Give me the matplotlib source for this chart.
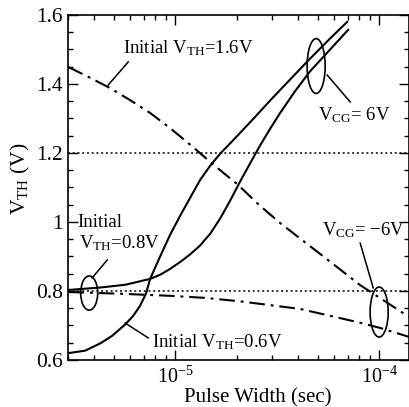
import numpy as np
import matplotlib
matplotlib.use('Agg')
import matplotlib.pyplot as plt
from matplotlib.patches import Ellipse
from matplotlib.ticker import LogLocator, MultipleLocator, FuncFormatter, NullFormatter

plt.rcParams['font.family'] = 'Liberation Serif'
plt.rcParams['mathtext.fontset'] = 'custom'
plt.rcParams['mathtext.rm'] = 'Liberation Serif'
plt.rcParams['mathtext.it'] = 'Liberation Serif:italic'
plt.rcParams['mathtext.default'] = 'regular'

# ---------------- data ----------------
# VCG = +6V, initial VTH = 0.6V
t_p06 = [3.0e-6, 3.62e-6, 4.29e-6, 4.91e-6, 5.69e-6, 6.23e-6, 6.73e-6, 7.20e-6,
         7.54e-6, 8.44e-6, 9.45e-6, 1.058e-5, 1.184e-5, 1.326e-5, 1.485e-5,
         1.662e-5, 1.861e-5, 2.08e-5, 2.47e-5, 2.92e-5, 3.66e-5, 4.49e-5,
         5.75e-5, 6.97e-5]
v_p06 = [0.620, 0.627, 0.648, 0.670, 0.703, 0.728, 0.757, 0.793,
         0.835, 0.900, 0.963, 1.018, 1.070, 1.122, 1.163,
         1.198, 1.228, 1.258, 1.305, 1.352, 1.413, 1.468,
         1.532, 1.580]

# VCG = +6V, initial VTH = 0.8V
t_p08 = [3.0e-6, 4.29e-6, 5.69e-6, 7.54e-6, 8.44e-6, 9.45e-6, 1.058e-5, 1.184e-5,
         1.326e-5, 1.485e-5, 1.662e-5, 1.861e-5, 2.08e-5, 2.33e-5, 2.61e-5,
         2.92e-5, 3.27e-5, 3.88e-5, 4.59e-5, 5.75e-5, 7.05e-5]
v_p08 = [0.803, 0.810, 0.818, 0.835, 0.847, 0.864, 0.884, 0.906,
         0.932, 0.966, 1.010, 1.062, 1.117, 1.170, 1.222,
         1.270, 1.316, 1.380, 1.437, 1.500, 1.557]

# VCG = -6V, initial VTH = 1.6V
t_m16 = [3.0e-6, 3.83e-6, 4.80e-6, 6.02e-6, 7.54e-6, 9.45e-6, 1.225e-5, 1.485e-5,
         2.04e-5, 2.55e-5, 3.27e-5, 4.10e-5, 5.75e-5, 8.07e-5, 9.89e-5, 1.40e-4]
v_m16 = [1.449, 1.418, 1.388, 1.353, 1.316, 1.272, 1.217, 1.174,
         1.107, 1.052, 0.997, 0.952, 0.885, 0.817, 0.783, 0.725]

# VCG = -6V, initial VTH = 0.8V
t_m08 = [3.0e-6, 5.38e-6, 9.45e-6, 1.403e-5, 2.08e-5, 2.92e-5, 4.10e-5,
         5.75e-5, 8.07e-5, 1.01e-4, 1.40e-4]
v_m08 = [0.797, 0.792, 0.786, 0.780, 0.770, 0.759, 0.748,
         0.728, 0.708, 0.693, 0.667]

ref_levels = [1.2, 0.8]

# ---------------- figure ----------------
fig = plt.figure(figsize=(4.1, 4.07), dpi=100)
ax = fig.add_axes([0.167, 0.1155, 0.8305, 0.8477])

dashdot = (0, (7.5, 2.8, 1.4, 2.8))
for lv in ref_levels:
    ax.axhline(lv, color='black', lw=1.1, ls=(0, (1.3, 1.8)))

ax.plot(t_p06, v_p06, color='black', lw=1.5)
ax.plot(t_p08, v_p08, color='black', lw=1.5)
ax.plot(t_m16, v_m16, color='black', lw=1.5, ls=dashdot)
ax.plot(t_m08, v_m08, color='black', lw=1.5, ls=dashdot)

xmin, xmax = 3.0e-6, 1.4e-4
ax.set_xscale('log')
ax.set_xlim(xmin, xmax)
ax.set_ylim(0.6, 1.6)

ax.xaxis.set_major_locator(LogLocator(base=10))
ax.xaxis.set_minor_locator(LogLocator(base=10, subs=np.arange(2, 10)))
ax.xaxis.set_minor_formatter(NullFormatter())
ax.yaxis.set_major_locator(MultipleLocator(0.2))
ax.yaxis.set_minor_locator(MultipleLocator(0.05))
ax.yaxis.set_major_formatter(FuncFormatter(lambda v, p: '%g' % round(v, 2)))

ax.tick_params(which='both', direction='in', top=True, right=True, width=1.0)
ax.tick_params(which='major', length=7)
ax.tick_params(which='minor', length=3.5)
ax.tick_params(axis='y', labelsize=15.5, pad=4)
ax.tick_params(axis='x', labelsize=14.5, pad=5)
for s in ax.spines.values():
    s.set_linewidth(1.2)

ax.set_xlabel('Pulse Width (sec)', fontsize=15)
ax.xaxis.label.set_va('baseline')
ax.xaxis.set_label_coords(0.557, -0.122)
ax.set_ylabel(r'V$_{\rm TH}$ (V)', fontsize=15.5)
ax.yaxis.label.set_va('center')
ax.yaxis.set_label_coords(-0.14, 0.525)


# ellipses in axes fraction, centred on data points
def to_axes(t, v):
    fx = (np.log10(t) - np.log10(xmin)) / (np.log10(xmax) - np.log10(xmin))
    fy = (v - 0.6) / 1.0
    return fx, fy


for (tc, vc, w, h) in [(4.91e-5, 1.452, 0.053, 0.159),
                       (1.0e-4, 0.739, 0.053, 0.145),
                       (3.79e-6, 0.794, 0.05, 0.099)]:
    ax.add_patch(Ellipse(to_axes(tc, vc), w, h, transform=ax.transAxes,
                         fill=False, ec='black', lw=1.2))

# leader lines
leaders = [((5.89e-6, 1.464), (4.70e-6, 1.397)),
           ((5.56e-5, 1.426), (7.21e-5, 1.348)),
           ((8.07e-5, 0.939), (9.35e-5, 0.809)),
           ((4.65e-6, 0.890), (3.92e-6, 0.838)),
           ((5.69e-6, 0.707), (7.38e-6, 0.664))]
for a, b in leaders:
    ax.plot([a[0], b[0]], [a[1], b[1]], color='black', lw=1.1)

fs = 13.5
ax.text(5.56e-6, 1.490, r'Initial V$_{\rm TH}$=1.6V', fontsize=fs, va='baseline')
ax.text(5.02e-5, 1.296, r'V$_{\rm CG}$= 6V', fontsize=fs, va='baseline')
ax.text(5.26e-5, 0.962, r'V$_{\rm CG}$= −6V', fontsize=fs, va='baseline')
ax.text(3.31e-6, 0.986, 'Initial', fontsize=fs, va='baseline')
ax.text(3.38e-6, 0.925, r'V$_{\rm TH}$=0.8V', fontsize=fs, va='baseline')
ax.text(7.71e-6, 0.638, r'Initial V$_{\rm TH}$=0.6V', fontsize=fs, va='baseline')

fig.savefig('out.png', dpi=100)
